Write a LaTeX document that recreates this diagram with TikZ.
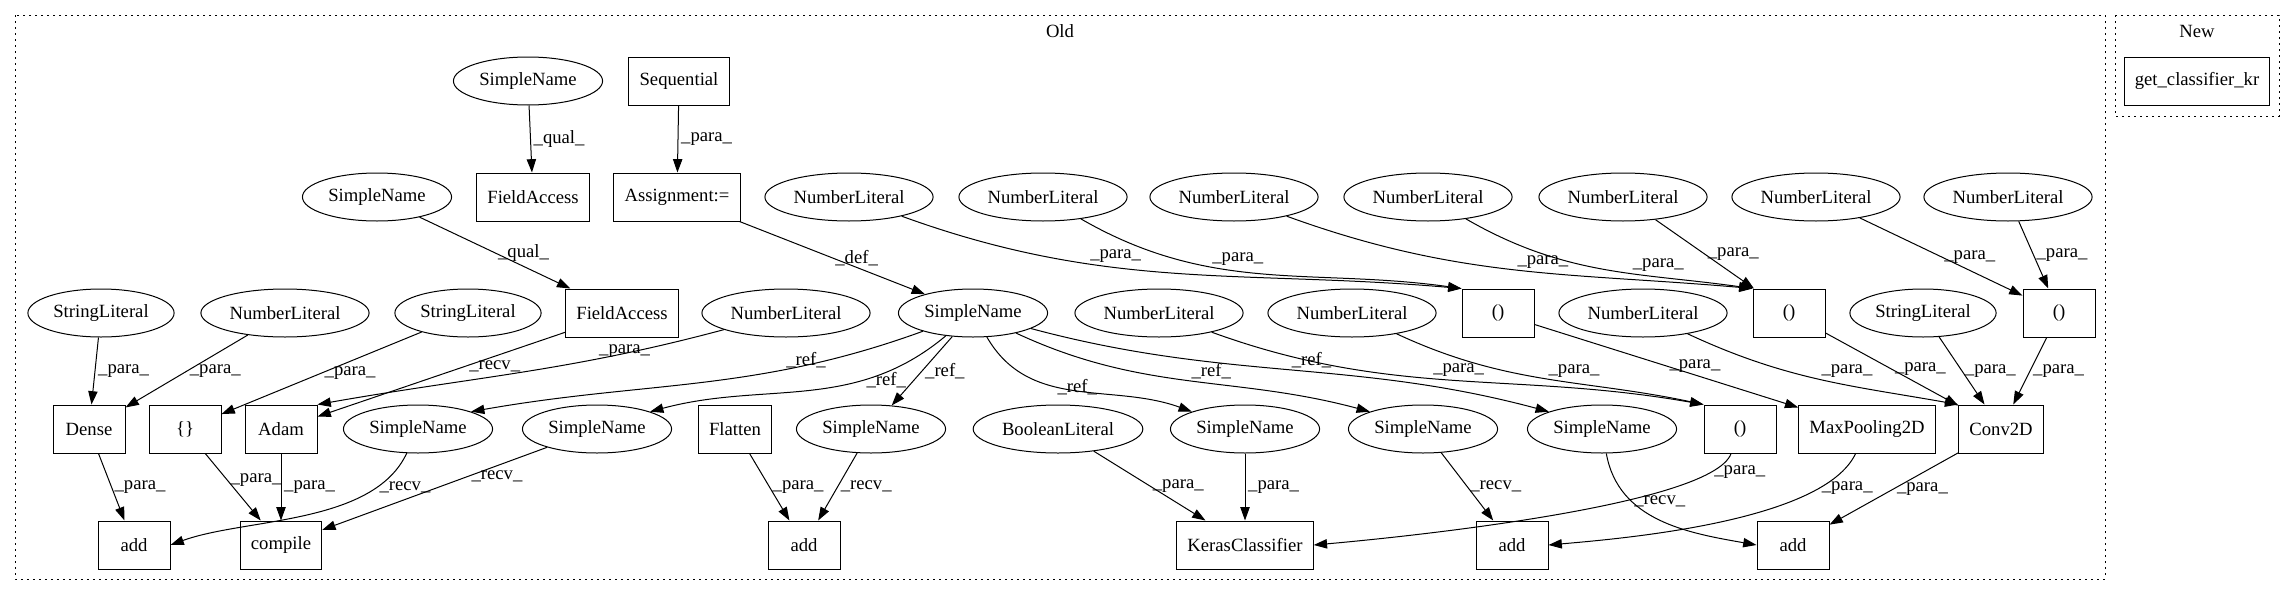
\documentclass[tikz,border=0pt]{standalone}
\usepackage{fontspec}
\setmainfont{Liberation Serif}
\usepackage{tikz}
\usetikzlibrary{arrows.meta,shapes.geometric}

\begin{document}
\begin{tikzpicture}[x=0.75pt,y=0.75pt,
	every node/.style={font=\fontsize{14}{17}\selectfont},
	box/.style={rectangle,draw,line width=0.75pt,minimum width=54pt,minimum height=36pt,inner xsep=8pt},
	oval/.style={ellipse,draw,line width=0.75pt,minimum height=36pt,inner xsep=3pt,inner ysep=1pt},
	lbl/.style={inner sep=2pt,anchor=west},
	lbla/.style={inner sep=1pt,anchor=south west},
	edge/.style={line width=0.75pt,-{Triangle[length=10pt,width=7pt]}},
	cluster/.style={line width=0.75pt,dash pattern=on 1.2pt off 3.3pt},
	]
	\useasboundingbox (0,0) rectangle (2295,-596);
	\draw[cluster] (15,-15) rectangle (2105,-579);
	\node (old) at (1060,-31) {Old};
	\draw[cluster] (2115,-15) rectangle (2279,-116);
	\node (new) at (2197,-31) {New};
	\node[box] (gck) at (2197,-81) {get\_classifier\_kr};

	\node[oval] (snq) at (528,-81) {SimpleName};
	\node[box] (seq) at (679,-81) {Sequential};

	\node[oval] (snl) at (377,-197) {SimpleName};
	\node[box] (fa1) at (533,-197) {FieldAccess};
	\node[box] (asg) at (677,-197) {Assignment:=};
	\node[oval] (nl1) at (849,-197) {NumberLiteral};
	\node[oval] (nl2) at (1043,-197) {NumberLiteral};
	\node[oval] (nl3) at (1234,-197) {NumberLiteral};
	\node[oval] (nl4) at (1428,-197) {NumberLiteral};
	\node[oval] (nl5) at (1623,-197) {NumberLiteral};
	\node[oval] (nl6) at (1816,-197) {NumberLiteral};
	\node[oval] (nl7) at (2008,-197) {NumberLiteral};

	\node[oval] (sl1) at (101,-313) {StringLiteral};
	\node[oval] (nla) at (285,-313) {NumberLiteral};
	\node[oval] (sl2) at (468,-313) {StringLiteral};
	\node[box] (fa2) at (622,-313) {FieldAccess};
	\node[oval] (nlb) at (786,-313) {NumberLiteral};
	\node[oval] (hub) at (973,-313) {SimpleName};
	\node[oval] (nlc) at (1159,-313) {NumberLiteral};
	\node[oval] (nld) at (1352,-313) {NumberLiteral};
	\node[box] (tp1) at (1498,-313) {()};
	\node[oval] (nle) at (1643,-313) {NumberLiteral};
	\node[box] (tp2) at (1789,-313) {()};
	\node[oval] (sl3) at (1923,-313) {StringLiteral};
	\node[box] (tp3) at (2059,-313) {()};

	\node[box] (dense) at (89,-429) {Dense};
	\node[box] (brace) at (185,-429) {\{\}};
	\node[box] (adam) at (281,-429) {Adam};
	\node[oval] (sna) at (418,-429) {SimpleName};
	\node[oval] (snb) at (597,-429) {SimpleName};
	\node[box] (flat) at (735,-429) {Flatten};
	\node[oval] (snc) at (871,-429) {SimpleName};
	\node[oval] (bool) at (1058,-429) {BooleanLiteral};
	\node[oval] (snd) at (1245,-429) {SimpleName};
	\node[oval] (sne) at (1423,-429) {SimpleName};
	\node[oval] (snf) at (1602,-429) {SimpleName};
	\node[box] (tp4) at (1740,-429) {()};
	\node[box] (maxp) at (1867,-429) {MaxPooling2D};
	\node[box] (conv) at (2001,-429) {Conv2D};

	\node[box] (add1) at (134,-545) {add};
	\node[box] (comp) at (281,-545) {compile};
	\node[box] (add2) at (804,-545) {add};
	\node[box] (keras) at (1245,-545) {KerasClassifier};
	\node[box] (add3) at (1512,-545) {add};
	\node[box] (add4) at (1793,-545) {add};

	\draw[edge] (snq) -- node[lbl] {\_qual\_} (fa1);
	\draw[edge] (seq) -- node[lbl] {\_para\_} (asg);
	\draw[edge] (snl) -- node[lbl] {\_qual\_} (fa2);
	\draw[edge] (asg) -- node[lbl] {\_def\_} (hub);
	\draw[edge] (nl1) to[out=-20,in=175] node[lbla,pos=0.33] {\_para\_} (tp1.north west);
	\draw[edge] (nl2) to[out=-30,in=172] node[lbla,pos=0.35] {\_para\_} (tp1.north west);
	\draw[edge] (nl3) to[out=-20,in=175] node[lbla] {\_para\_} (tp2.north west);
	\draw[edge] (nl4) to[out=-30,in=172] node[lbla,pos=0.6] {\_para\_} (tp2.north west);
	\draw[edge] (nl5) -- node[lbl] {\_para\_} (tp2);
	\draw[edge] (nl6) -- node[lbl] {\_para\_} (tp3);
	\draw[edge] (nl7) -- node[lbl] {\_para\_} (tp3);

	\draw[edge] (sl1) -- node[lbl] {\_para\_} (dense);
	\draw[edge] (nla) -- node[lbl] {\_para\_} (dense);
	\draw[edge] (sl2) -- node[lbl] {\_para\_} (brace);
	\draw[edge] (fa2) -- node[lbl,pos=0.4] {\_recv\_} (adam);
	\draw[edge] (nlb) to[out=-165,in=10] node[lbla,pos=0.3] {\_para\_} (adam.north east);
	\draw[edge] (hub) to[out=-160,in=10] node[lbla,pos=0.3] {\_ref\_} (sna.north east);
	\draw[edge] (hub) to[out=-140,in=15] node[lbl,pos=0.3] {\_ref\_} (snb.north east);
	\draw[edge] (hub) -- node[lbl] {\_ref\_} (snc);
	\draw[edge] (hub) to[out=-60,in=160] node[lbl,pos=0.4] {\_ref\_} (snd.north west);
	\draw[edge] (hub) to[out=-25,in=165] node[lbla] {\_ref\_} (sne.north west);
	\draw[edge] (hub) to[out=-15,in=165] node[lbla] {\_ref\_} (snf.north west);
	\draw[edge] (nlc) to[out=-20,in=170] node[lbla,pos=0.45] {\_para\_} (tp4.north west);
	\draw[edge] (nld) to[out=-25,in=168] node[lbla] {\_para\_} (tp4.north west);
	\draw[edge] (tp1) -- node[lbl] {\_para\_} (maxp);
	\draw[edge] (nle) to[out=-25,in=170] node[lbla] {\_para\_} (conv.north west);
	\draw[edge] (tp2) -- node[lbl] {\_para\_} (conv);
	\draw[edge] (sl3) -- node[lbl] {\_para\_} (conv);
	\draw[edge] (tp3) -- node[lbl] {\_para\_} (conv);

	\draw[edge] (dense) -- node[lbl] {\_para\_} (add1);
	\draw[edge] (sna) to[out=-115,in=20,looseness=0.8] node[lbl,pos=0.2] {\_recv\_} (add1.east);
	\draw[edge] (brace) -- node[lbl,pos=0.4] {\_para\_} (comp);
	\draw[edge] (adam) -- node[lbl] {\_para\_} (comp);
	\draw[edge] (snb) -- node[lbl,pos=0.35] {\_recv\_} (comp);
	\draw[edge] (flat) -- node[lbl] {\_para\_} (add2);
	\draw[edge] (snc) -- node[lbl] {\_recv\_} (add2);
	\draw[edge] (bool) -- node[lbl] {\_para\_} (keras);
	\draw[edge] (snd) -- node[lbl] {\_para\_} (keras);
	\draw[edge] (tp4) to[out=-110,in=5,looseness=0.35] node[lbl,pos=0.12] {\_para\_} (keras.east);
	\draw[edge] (sne) -- node[lbl] {\_recv\_} (add3);
	\draw[edge] (maxp) to[out=-115,in=5,looseness=0.6] node[lbl,pos=0.2] {\_para\_} (add3.east);
	\draw[edge] (snf) to[out=-80,in=170] node[lbl,pos=0.3] {\_recv\_} (add4.west);
	\draw[edge] (conv) -- node[lbl] {\_para\_} (add4);
\end{tikzpicture}
\end{document}
